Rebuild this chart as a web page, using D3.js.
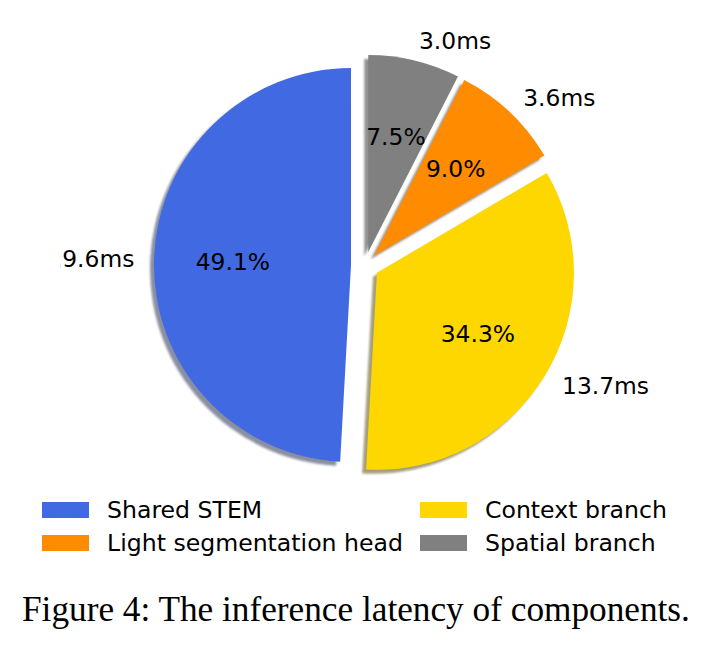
<!DOCTYPE html>
<html>
<head>
<meta charset="utf-8">
<script src="https://cdn.jsdelivr.net/npm/d3@7"></script>
<style>
  html, body { margin: 0; padding: 0; background: #fff; }
  svg { display: block; }
</style>
</head>
<body>
<svg id="chart" width="711" height="660"></svg>
<script>
// ---- data ----
const categories = ["Shared STEM", "Context branch", "Light segmentation head", "Spatial branch"];
const latencyMs = [19.6, 13.7, 3.6, 3.0];
const colors = ["#4169E1", "#FFD700", "#FF8C00", "#808080"];
const legendOrder = [0, 1, 2, 3]; // row-major, 2 columns
const caption = "Figure 4: The inference latency of components.";

// ---- layout ----
const W = 711, H = 660;
const cx = 365, cy = 265.5, R = 197, explode = 14;
const svg = d3.select("#chart");

const defs = svg.append("defs");
defs.append("clipPath").attr("id", "crop")
  .append("rect").attr("x", 60).attr("y", 0).attr("width", W - 60).attr("height", H);
const blur = defs.append("filter").attr("id", "sh").attr("x", "-10%").attr("y", "-10%").attr("width", "120%").attr("height", "120%");
blur.append("feGaussianBlur").attr("stdDeviation", 1.2);

const total = d3.sum(latencyMs);
const pie = d3.pie().sort(null).startAngle(0).endAngle(-2 * Math.PI);
const arcs = pie(latencyMs);
const arc = d3.arc().innerRadius(0).outerRadius(R);

const g = svg.append("g").attr("clip-path", "url(#crop)");

function off(d, dist) {
  const m = (d.startAngle + d.endAngle) / 2;
  return [Math.sin(m) * dist, -Math.cos(m) * dist];
}

// shadows
arcs.forEach((d, i) => {
  const [ox, oy] = off(d, explode);
  const c = d3.rgb(colors[i]);
  g.append("path")
    .attr("d", arc(d))
    .attr("transform", `translate(${cx + ox - 4},${cy + oy + 4})`)
    .attr("fill", d3.rgb(c.r * 0.3, c.g * 0.3, c.b * 0.3))
    .attr("opacity", 0.5)
    .attr("filter", "url(#sh)");
});
// wedges
arcs.forEach((d, i) => {
  const [ox, oy] = off(d, explode);
  g.append("path")
    .attr("d", arc(d))
    .attr("transform", `translate(${cx + ox},${cy + oy})`)
    .attr("fill", colors[i]);
});

const font = "'DejaVu Sans', sans-serif";
const fs = 23.4;
// percentage labels
arcs.forEach((d, i) => {
  const [ox, oy] = off(d, explode);
  const [px, py] = off(d, 0.6 * R);
  g.append("text")
    .attr("x", cx + ox + px).attr("y", cy + oy + py)
    .attr("text-anchor", "middle").attr("dominant-baseline", "central")
    .attr("font-family", font).attr("font-size", fs).attr("fill", "#000")
    .text((latencyMs[i] / total * 100).toFixed(1) + "%");
});
// outer labels
arcs.forEach((d, i) => {
  const [ox, oy] = off(d, explode);
  const [px, py] = off(d, 1.1 * R);
  g.append("text")
    .attr("x", cx + ox + px).attr("y", cy + oy + py)
    .attr("text-anchor", px > 0 ? "start" : "end").attr("dominant-baseline", "central")
    .attr("font-family", font).attr("font-size", fs).attr("fill", "#000")
    .text(latencyMs[i].toFixed(1) + "ms");
});

// legend
const colX = [42, 420], rowY = [510, 543];
legendOrder.forEach((idx, k) => {
  const col = k % 2, row = Math.floor(k / 2);
  const lg = svg.append("g").attr("transform", `translate(${colX[col]},${rowY[row]})`);
  lg.append("rect").attr("x", 0).attr("y", -8).attr("width", 47).attr("height", 16).attr("fill", colors[idx]);
  lg.append("text").attr("x", 65).attr("y", 0).attr("dominant-baseline", "central")
    .attr("font-family", font).attr("font-size", 23.6).attr("fill", "#000")
    .text(categories[idx]);
});

// caption
const cap = svg.append("text").attr("x", 22).attr("y", 621)
  .attr("font-family", "'Liberation Serif', 'Times New Roman', serif")
  .attr("font-size", 32).attr("fill", "#000").text(caption);
const len = cap.node().getComputedTextLength();
cap.attr("font-size", 32 * 668 / len);
</script>
</body>
</html>
